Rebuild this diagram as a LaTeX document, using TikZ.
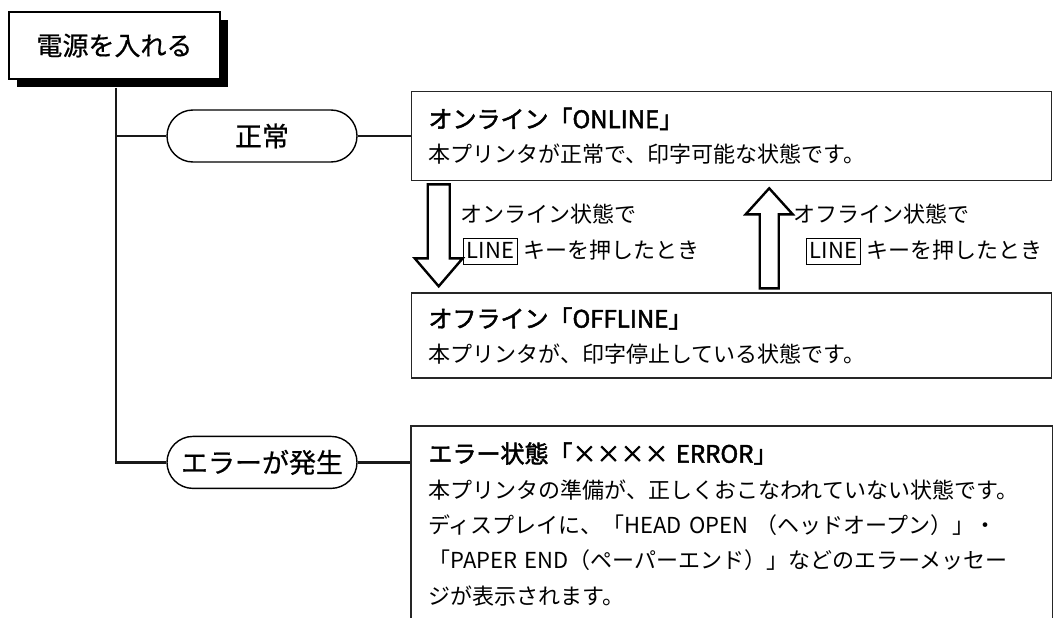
\documentclass[tikz,border=0pt]{standalone}
\usepackage{fontspec}
\setmainfont{Noto Sans CJK JP}
\newfontfamily\medfont[FakeBold=0.6]{Noto Sans CJK JP}
\newfontfamily\titlefont[FakeBold=2]{Noto Sans CJK JP}
\usetikzlibrary{positioning, shadows, calc}
\tikzstyle{powerbox} = [rectangle, draw=black, line width=1.6pt, fill=white,
minimum width=211pt, minimum height=67pt, font=\medfont\fontsize{26}{30}\selectfont,
drop shadow={shadow xshift=8pt, shadow yshift=-8pt, fill=black, opacity=1}]
\tikzstyle{pill} = [rectangle, rounded corners=26pt, draw=black, line width=1.4pt,
minimum width=190pt, minimum height=52pt, font=\medfont\fontsize{27}{30}\selectfont]
\tikzstyle{statebox} = [rectangle, draw=black!85, line width=1.6pt,
minimum width=640pt, text width=606pt, inner xsep=17pt,
align=left, font=\fontsize{22}{34.5}\selectfont]
\tikzstyle{boxline} = [line width=1.6pt, draw=black!85]
\tikzstyle{branch} = [line width=2.4pt, draw=black!90]
\tikzstyle{hollow} = [line width=2.4pt, draw=black, fill=white, line join=miter]
\tikzstyle{note} = [align=left, font=\fontsize{22}{36}\selectfont, inner sep=0pt]
\newcommand{\keycap}[1]{{\setlength{\fboxsep}{3pt}\setlength{\fboxrule}{1pt}\fbox{\rule[-2pt]{0pt}{18pt}#1}}}
\newcommand{\statetitle}[1]{{\titlefont\fontsize{24}{30}\selectfont #1}}

\begin{document}
\begin{tikzpicture}[x=1pt, y=1pt]
    \useasboundingbox (0,0) rectangle (1055,-618);
    \node (power)   [powerbox] at (114.5,-45.5) {電源を入れる};
    \node (normal)  [pill] at (262,-136) {正常};
    \node (online)  [statebox, minimum height=89pt, right=53pt of normal]
        {\statetitle{オンライン「ONLINE」}\\本プリンタが正常で、印字可能な状態です。};
    \node (offline) [statebox, minimum height=85pt, below=111pt of online]
        {\statetitle{オフライン「OFFLINE」}\\本プリンタが、印字停止している状態です。};
    \node (fault)   [pill, below=273pt of normal] {エラーが発生};
    \node (error)   [statebox, draw=none, minimum height=195pt,
        font=\fontsize{22}{35.4}\selectfont,
        below=47pt of offline.south west, anchor=north west]
        {\statetitle{エラー状態「×××× ERROR」}\\
         本プリンタの準備が、正しくおこなわれていない状態です。\\
         ディスプレイに、「HEAD OPEN （ヘッドオープン）」・\\
         「PAPER END（ペーパーエンド）」などのエラーメッセー\\
         ジが表示されます。};
    \node (downnote) [note, anchor=west] at ($(online.south west)+(50,-53)$)
        {オンライン状態で\\\hspace*{2pt}\keycap{LINE} キーを押したとき};
    \node (upnote)   [note, anchor=west] at ($(online.south west)+(383,-53)$)
        {オフライン状態で\\\hspace*{12pt}\keycap{LINE} キーを押したとき};

    % trunk and branches
    \coordinate (trunk) at ($(power.south)+(1.5,-8)$);
    \draw[branch] (trunk) |- (fault.west);
    \draw[branch] (normal.west) -- (trunk |- normal.west);
    \draw[branch] (normal) -- (online);
    \draw[branch] (fault.east) -- (fault.east -| error.west);
    \draw[boxline] (error.south west) -- (error.north west) -- (error.north east) -- (error.south east);

    % hollow arrows
    \draw[hollow] ($(online.south west)+(17,-3)$) -- ++(22,0) -- ++(0,-74) -- ++(13,0)
        -- ++(-24,-28) -- ++(-24,28) -- ++(13,0) -- cycle;
    \draw[hollow] ($(offline.north west)+(349,4)$) -- ++(19,0) -- ++(0,74) -- ++(14,0)
        -- ++(-23.5,26) -- ++(-23.5,-26) -- ++(14,0) -- cycle;
\end{tikzpicture}
\end{document}
